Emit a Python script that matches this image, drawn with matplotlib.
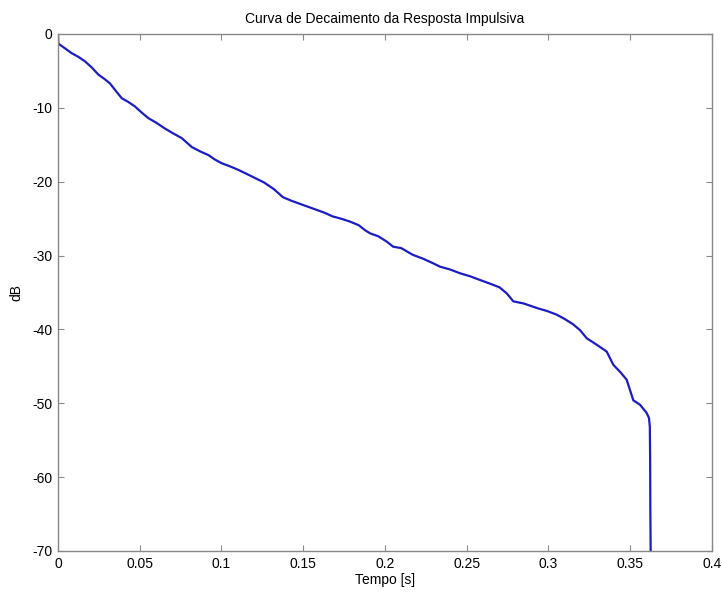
import matplotlib.pyplot as plt

# Energy decay curve
tempo = [0.0, 0.0002, 0.004, 0.0084, 0.0125, 0.0165, 0.0205, 0.0247, 0.0285,
         0.0318, 0.035, 0.039, 0.043, 0.047, 0.051, 0.0553, 0.060, 0.0654,
         0.070, 0.0757, 0.0818, 0.087, 0.092, 0.096, 0.1001, 0.1050, 0.1103,
         0.1150, 0.1205, 0.1260, 0.1320, 0.1376, 0.1430, 0.1480, 0.1530,
         0.1580, 0.1630, 0.1680, 0.1730, 0.1786, 0.1840, 0.1880, 0.1910,
         0.1960, 0.2010, 0.2050, 0.2100, 0.2170, 0.2230, 0.2290, 0.2336,
         0.2400, 0.2459, 0.2520, 0.2580, 0.2642, 0.2700, 0.2744, 0.2785,
         0.2850, 0.2928, 0.2990, 0.3050, 0.3100, 0.3150, 0.3193, 0.3234,
         0.3290, 0.3356, 0.3397, 0.3440, 0.3478, 0.3500, 0.3519, 0.3560,
         0.3600, 0.3615, 0.3620, 0.3622, 0.3623, 0.3625]
decaimento = [0.0, -1.3, -1.9, -2.6, -3.1, -3.7, -4.5, -5.5, -6.1,
              -6.7, -7.6, -8.7, -9.2, -9.8, -10.6, -11.4, -12.0, -12.8,
              -13.4, -14.1, -15.3, -15.9, -16.4, -17.0, -17.5, -17.9, -18.4,
              -18.9, -19.5, -20.1, -21.0, -22.1, -22.6, -23.0, -23.4,
              -23.8, -24.2, -24.7, -25.0, -25.4, -25.9, -26.6, -27.0,
              -27.4, -28.1, -28.8, -29.0, -29.9, -30.4, -31.0, -31.5,
              -31.9, -32.4, -32.8, -33.3, -33.8, -34.3, -35.1, -36.2,
              -36.5, -37.1, -37.5, -38.0, -38.6, -39.3, -40.1, -41.2,
              -42.0, -43.0, -44.8, -45.8, -46.8, -48.3, -49.6, -50.2,
              -51.3, -52.0, -53.2, -58.0, -64.0, -70.0]

xticks = [0, 0.05, 0.1, 0.15, 0.2, 0.25, 0.3, 0.35, 0.4]
xticklabels = ["0", "0.05", "0.1", "0.15", "0.2", "0.25", "0.3", "0.35", "0.4"]
yticks = [0, -10, -20, -30, -40, -50, -60, -70]

plt.rcParams["font.family"] = ["Liberation Sans", "DejaVu Sans"]
plt.rcParams["axes.unicode_minus"] = False

fig = plt.figure(figsize=(7.22, 5.92), dpi=100)
ax = fig.add_axes([0.0803, 0.0693, 0.9058, 0.8733])

ax.plot(tempo, decaimento, color="#1c1cc4", linewidth=1.6)

ax.set_xlim(0, 0.4)
ax.set_ylim(-70, 0)
ax.set_xticks(xticks)
ax.set_xticklabels(xticklabels)
ax.set_yticks(yticks)

ax.tick_params(direction="in", length=4, width=0.8, color="#888888",
               top=True, right=True, labelsize=10, pad=4)
for s in ax.spines.values():
    s.set_color("#888888")
    s.set_linewidth(1.0)

ax.set_title("Curva de Decaimento da Resposta Impulsiva", fontsize=10, pad=8)
ax.set_xlabel("Tempo [s]", fontsize=10, labelpad=2)
ax.set_ylabel("dB", fontsize=10, labelpad=6)

fig.savefig("out.png", dpi=100)
